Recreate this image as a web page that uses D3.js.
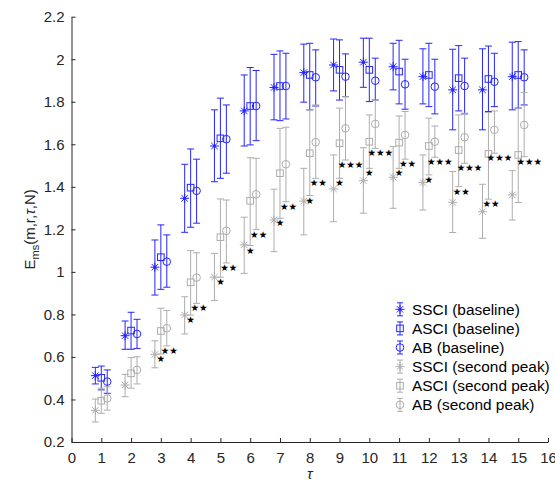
<!DOCTYPE html>
<html>
<head>
<meta charset="utf-8">
<script src="https://cdn.jsdelivr.net/npm/d3@7"></script>
<style>
  body { margin: 0; background: #fff; }
  svg { display: block; font-family: "Liberation Sans", Arial, sans-serif; }
</style>
</head>
<body>
<svg id="svg1" width="555" height="482"></svg>
<script>
// lag values
const taus = d3.range(1, 16);

// [mean, lower, upper] for each tau
const ssciBase = [[0.512,0.473,0.551],[0.700,0.636,0.769],[1.022,0.891,1.150],[1.346,1.186,1.506],[1.592,1.424,1.762],
  [1.757,1.592,1.926],[1.867,1.715,2.023],[1.937,1.798,2.071],[1.973,1.851,2.095],[1.986,1.868,2.099],
  [1.965,1.856,2.075],[1.918,1.790,2.049],[1.856,1.668,2.047],[1.856,1.668,2.049],[1.918,1.762,2.080]];
const asciBase = [[0.502,0.445,0.557],[0.724,0.636,0.810],[1.069,0.918,1.221],[1.396,1.210,1.578],[1.628,1.440,1.817],
  [1.780,1.597,1.961],[1.874,1.711,2.039],[1.926,1.762,2.075],[1.950,1.808,2.091],[1.950,1.801,2.099],
  [1.942,1.790,2.089],[1.926,1.777,2.075],[1.911,1.757,2.064],[1.907,1.754,2.062],[1.926,1.770,2.083]];
const abBase = [[0.484,0.429,0.539],[0.708,0.640,0.777],[1.048,0.928,1.174],[1.381,1.229,1.530],[1.624,1.464,1.785],
  [1.780,1.617,1.947],[1.874,1.719,2.028],[1.915,1.780,2.044],[1.918,1.824,2.025],[1.899,1.808,2.005],
  [1.882,1.765,2.000],[1.871,1.743,2.000],[1.874,1.743,2.005],[1.894,1.777,2.028],[1.915,1.785,2.044]];
const ssciPeak = [[0.349,0.294,0.402],[0.468,0.413,0.518],[0.612,0.549,0.676],[0.797,0.708,0.883],[0.975,0.865,1.087],
  [1.127,0.993,1.257],[1.244,1.095,1.389],[1.333,1.174,1.487],[1.390,1.236,1.550],[1.429,1.276,1.584],
  [1.445,1.299,1.589],[1.420,1.291,1.550],[1.327,1.185,1.472],[1.283,1.158,1.412],[1.362,1.244,1.476]];
const asciPeak = [[0.394,0.335,0.453],[0.523,0.453,0.597],[0.722,0.614,0.829],[0.951,0.797,1.100],[1.163,0.975,1.343],
  [1.334,1.124,1.537],[1.464,1.252,1.675],[1.558,1.359,1.762],[1.605,1.440,1.770],[1.612,1.487,1.738],
  [1.608,1.487,1.733],[1.592,1.456,1.723],[1.573,1.401,1.738],[1.555,1.342,1.749],[1.550,1.326,1.770]];
const abPeak = [[0.405,0.350,0.460],[0.539,0.473,0.601],[0.735,0.652,0.818],[0.973,0.852,1.090],[1.193,1.042,1.338],
  [1.365,1.199,1.534],[1.506,1.330,1.680],[1.610,1.440,1.785],[1.675,1.526,1.824],[1.696,1.581,1.808],
  [1.644,1.530,1.754],[1.612,1.539,1.686],[1.633,1.511,1.746],[1.668,1.558,1.757],[1.691,1.542,1.843]];

// significance marks under the lower end of ASCI and AB (second peak)
const starsAsci = ["", "", "*", "*", "*", "*", "*", "*", "*", "*", "*", "*", "**", "**", ""];
const starsAb = ["", "", "**", "**", "**", "**", "**", "**", "***", "***", "**", "***", "***", "***", "***"];

const xTicks = d3.range(0, 17);
const yTicks = [0.2, 0.4, 0.6, 0.8, 1, 1.2, 1.4, 1.6, 1.8, 2, 2.2];
const legendLabels = ["SSCI (baseline)", "ASCI (baseline)", "AB (baseline)",
  "SSCI (second peak)", "ASCI (second peak)", "AB (second peak)"];

const blue = "#2626ff";
const gray = "#adadad";
const axisColor = "#262626";

const svg = d3.select("#svg1");
const x = d3.scaleLinear([0, 16], [71.5, 548]);
const y = d3.scaleLinear([0.2, 2.2], [442, 16.7]);

const series = [
  {data: ssciBase, off: -0.2, color: blue, marker: "star", dot: true},
  {data: asciBase, off: 0, color: blue, marker: "square"},
  {data: abBase, off: 0.2, color: blue, marker: "circle"},
  {data: ssciPeak, off: -0.2, color: gray, marker: "star"},
  {data: asciPeak, off: 0, color: gray, marker: "square"},
  {data: abPeak, off: 0.2, color: gray, marker: "circle"}
];

// draw one marker into a group at (cx, cy)
function drawMarker(g, s, cx, cy) {
  if (s.marker === "star") {
    const r = 4.5, d = r * 0.72;
    g.append("path")
      .attr("d", `M${cx - r},${cy}H${cx + r}M${cx},${cy - r}V${cy + r}` +
        `M${cx - d},${cy - d}L${cx + d},${cy + d}M${cx - d},${cy + d}L${cx + d},${cy - d}`)
      .attr("stroke", s.color).attr("fill", "none");
    if (s.dot) g.append("circle").attr("cx", cx).attr("cy", cy).attr("r", 1.6).attr("fill", s.color);
  } else if (s.marker === "square") {
    g.append("rect").attr("x", cx - 3.3).attr("y", cy - 3.3).attr("width", 6.6).attr("height", 6.6)
      .attr("fill", "none").attr("stroke", s.color);
  } else {
    g.append("circle").attr("cx", cx).attr("cy", cy).attr("r", 3.8)
      .attr("fill", "none").attr("stroke", s.color);
  }
}

// axes
const xAxis = g => g
  .attr("transform", `translate(0,${y(0.2)})`)
  .call(d3.axisBottom(x).tickValues(xTicks).tickSizeInner(-4).tickSizeOuter(0).tickPadding(10))
  .call(g => g.selectAll("path,line").attr("stroke", axisColor));
const yAxis = g => g
  .attr("transform", `translate(${x(0)},0)`)
  .call(d3.axisLeft(y).tickValues(yTicks).tickFormat(d3.format("~g")).tickSizeInner(-4).tickSizeOuter(0).tickPadding(7))
  .call(g => g.selectAll("path,line").attr("stroke", axisColor));

svg.append("g").call(xAxis);
svg.append("g").call(yAxis);
svg.selectAll(".tick text").attr("font-size", 15).attr("fill", axisColor)
  .attr("font-family", "Liberation Sans, Arial, sans-serif");

// error bars and markers
series.forEach(s => {
  const g = svg.append("g");
  s.data.forEach(([m, lo, hi], i) => {
    const cx = x(taus[i] + s.off);
    g.append("path")
      .attr("d", `M${cx},${y(lo)}V${y(hi)}M${cx - 3.5},${y(lo)}H${cx + 3.5}M${cx - 3.5},${y(hi)}H${cx + 3.5}`)
      .attr("stroke", s.color).attr("fill", "none");
    drawMarker(g, s, cx, y(m));
  });
});

// significance stars
const starG = svg.append("g").attr("font-family", "DejaVu Sans").attr("font-size", 9.5).attr("fill", "#000");
function addStars(labels, data, off) {
  labels.forEach((t, i) => {
    if (!t) return;
    const n = t.length;
    starG.append("text")
      .attr("x", x(taus[i] + off) + (n - 1) * 2.5)
      .attr("y", y(data[i][1]) + 8)
      .attr("text-anchor", "middle")
      .text("★".repeat(n));
  });
}
addStars(starsAsci, asciPeak, 0);
addStars(starsAb, abPeak, 0.2);

// legend
const leg = svg.append("g");
legendLabels.forEach((lab, i) => {
  const cy = 309.3 + i * 19.1, cx = 400;
  const s = series[i];
  leg.append("path")
    .attr("d", `M${cx},${cy - 6.5}V${cy + 6.5}M${cx - 3},${cy - 6.5}H${cx + 3}M${cx - 3},${cy + 6.5}H${cx + 3}`)
    .attr("stroke", s.color).attr("fill", "none");
  drawMarker(leg, s, cx, cy);
  leg.append("text").attr("x", 412).attr("y", cy + 5.5)
    .attr("font-size", 15.4).attr("fill", "#000").text(lab);
});

// axis labels
svg.append("text").attr("x", x(8)).attr("y", 479).attr("text-anchor", "middle")
  .attr("font-size", 15).attr("font-style", "italic").attr("fill", axisColor).text("τ");

const yl = svg.append("text")
  .attr("transform", `translate(35,${(y(0.2) + y(2.2)) / 2}) rotate(-90)`)
  .attr("text-anchor", "middle").attr("font-size", 15).attr("fill", axisColor);
yl.append("tspan").text("E");
yl.append("tspan").attr("font-size", 11).attr("dy", 4).text("ms");
yl.append("tspan").attr("dy", -4).text("(m,r,");
yl.append("tspan").attr("font-style", "italic").text("τ");
yl.append("tspan").text(",N)");
</script>
</body>
</html>
